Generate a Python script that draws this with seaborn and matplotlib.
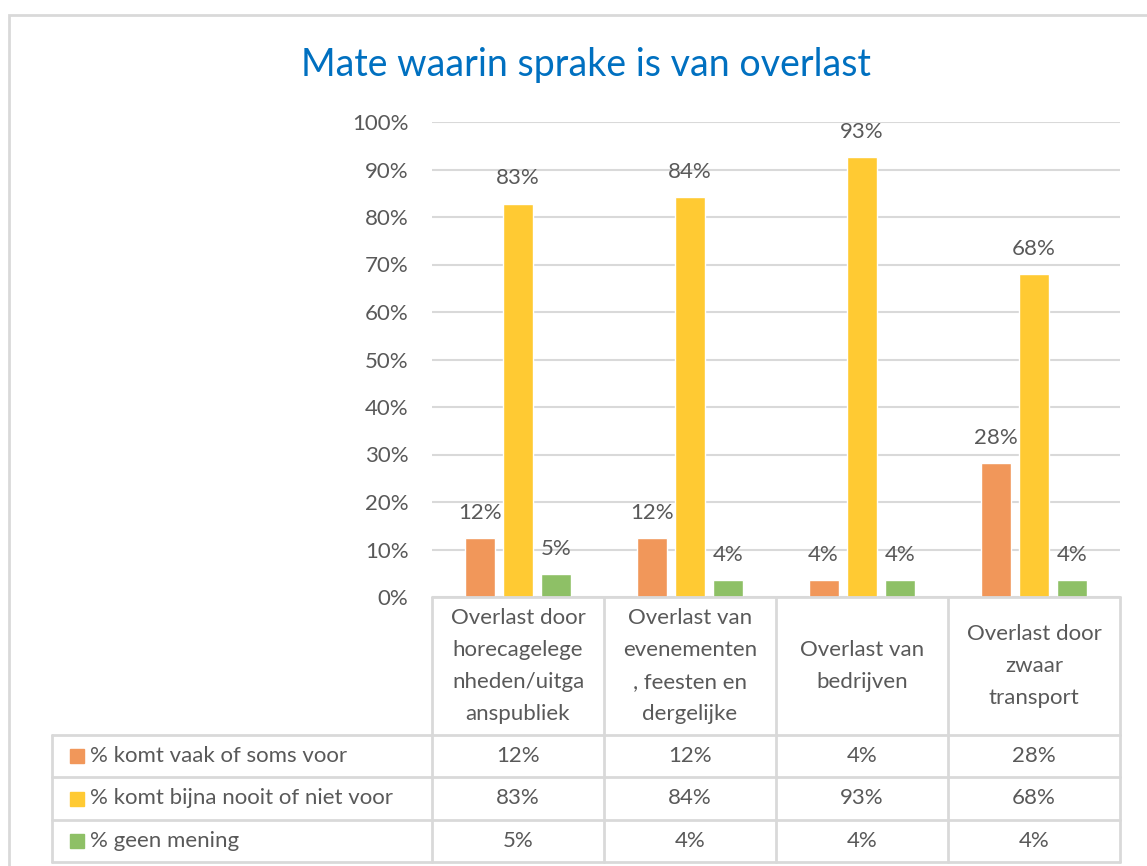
import matplotlib
matplotlib.use("Agg")
import matplotlib.pyplot as plt
import matplotlib.transforms as mtransforms
from matplotlib.patches import Rectangle
from matplotlib.lines import Line2D
import pandas as pd
import seaborn as sns

# data
categories = ["Overlast door\nhorecagelege\nnheden/uitga\nanspubliek",
              "Overlast van\nevenementen\n, feesten en\ndergelijke",
              "Overlast van\nbedrijven",
              "Overlast door\nzwaar\ntransport"]
series = ["% komt vaak of soms voor",
          "% komt bijna nooit of niet voor",
          "% geen mening"]
vaak_soms = [12.4, 12.4, 3.6, 28.2]
nooit = [82.8, 84.2, 92.6, 67.9]
geen_mening = [4.8, 3.6, 3.6, 3.6]
colors = ["#F1975A", "#FFCA33", "#8EC066"]

df = pd.DataFrame({
    "categorie": categories * 3,
    "reeks": [s for s in series for _ in categories],
    "waarde": vaak_soms + nooit + geen_mening,
})

sns.set_style("white")
plt.rcParams["font.family"] = ["Lato", "DejaVu Sans"]
txt = "#595959"
grid = "#D9D9D9"
fs = 16

W, H = 1147, 866
fig = plt.figure(figsize=(W / 100, H / 100), dpi=100)
x0, x1, y0, y1 = 432, 1120, 597, 122   # plot area in pixels
ax = fig.add_axes([x0 / W, 1 - y0 / H, (x1 - x0) / W, (y0 - y1) / H])

sns.barplot(data=df, x="categorie", y="waarde", hue="reeks", order=categories,
            hue_order=series, palette=colors, width=0.67, gap=0.22,
            legend=False, ax=ax, saturation=1)

for cont in ax.containers:
    ax.bar_label(cont, labels=[f"{b.get_height():.0f}%" for b in cont],
                 padding=11, fontsize=fs, color=txt)

ax.set_ylim(0, 100)
ax.set_xlim(-0.5, len(categories) - 0.5)
ax.set_yticks(range(0, 101, 10))
ax.set_yticklabels([f"{v}%" for v in range(0, 101, 10)], fontsize=fs, color=txt)
ax.tick_params(axis="y", length=0, pad=17)
ax.set_xticks([])
ax.set_xlabel("")
ax.set_ylabel("")
ax.yaxis.grid(True, color=grid, lw=1.5)
ax.set_axisbelow(True)
sns.despine(ax=ax, left=True, bottom=True)

# data table below the plot
def fy(py):
    return (y0 - py) / (y0 - y1)

def fx(px):
    return (px - x0) / (x1 - x0)

tr = mtransforms.blended_transform_factory(ax.transData, ax.transAxes)
rows = [597, 735, 777, 820, 862]
line_kw = dict(color=grid, lw=2, clip_on=False)
ax.add_line(Line2D([0, 1], [0, 0], transform=ax.transAxes, **line_kw))
for r in rows[1:]:
    ax.add_line(Line2D([fx(52), 1], [fy(r), fy(r)], transform=ax.transAxes, **line_kw))
ax.add_line(Line2D([fx(52), fx(52)], [fy(735), fy(862)], transform=ax.transAxes, **line_kw))
for i in range(len(categories) + 1):
    ax.add_line(Line2D([i - 0.5, i - 0.5], [0, fy(862)], transform=tr, **line_kw))

for i, cat in enumerate(categories):
    ax.text(i, fy(666), cat, transform=tr, ha="center", va="center",
            fontsize=fs, color=txt, linespacing=1.74)

row_vals = [vaak_soms, nooit, geen_mening]
for j, (name, vals, col) in enumerate(zip(series, row_vals, colors)):
    yc = fy((rows[j + 1] + rows[j + 2]) / 2)
    ax.add_patch(Rectangle((fx(70), yc - 7 / 475), 14 / 688, 14 / 475,
                           transform=ax.transAxes, color=col, clip_on=False))
    ax.text(fx(90), yc, name, transform=ax.transAxes, ha="left", va="center",
            fontsize=fs, color=txt)
    for i, v in enumerate(vals):
        ax.text(i, yc, f"{v:.0f}%", transform=tr, ha="center", va="center",
                fontsize=fs, color=txt)

# chart border and title
fig.add_artist(Rectangle((9 / W, -0.1), 1.2, 1.1 - 15 / H, transform=fig.transFigure,
                         fill=False, edgecolor=grid, lw=2))
fig.text(586 / W, 1 - 65 / H, "Mate waarin sprake is van overlast",
         ha="center", va="center", fontsize=27, color="#0070C0")

fig.savefig("out.png", dpi=100, facecolor="white")
